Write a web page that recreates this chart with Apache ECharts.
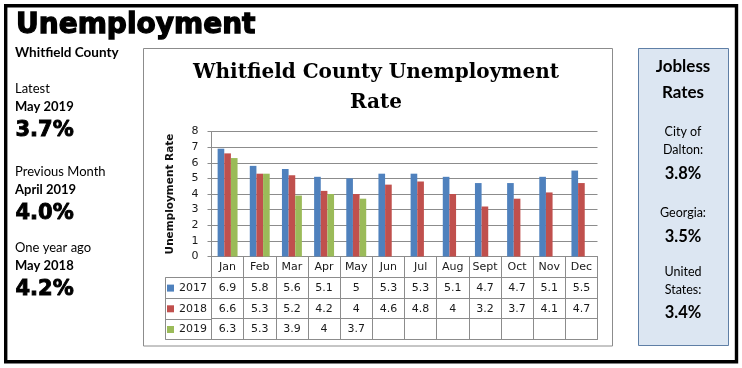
<!DOCTYPE html>
<html><head><meta charset="utf-8">
<script src="https://cdn.jsdelivr.net/npm/echarts/dist/echarts.min.js"></script>
<style>html,body{margin:0;padding:0;background:#fff}#c{width:742px;height:368px}</style>
</head><body><div id="c"></div>
<script>
// ---- data ----
const months = ['Jan','Feb','Mar','Apr','May','Jun','Jul','Aug','Sept','Oct','Nov','Dec'];
const years = ['2017','2018','2019'];
const rate2017 = [6.9,5.8,5.6,5.1,5,5.3,5.3,5.1,4.7,4.7,5.1,5.5];
const rate2018 = [6.6,5.3,5.2,4.2,4,4.6,4.8,4,3.2,3.7,4.1,4.7];
const rate2019 = [6.3,5.3,3.9,4,3.7,null,null,null,null,null,null,null];
const yMin = 0, yMax = 8, yInterval = 1;
const sideStats = [
  {label:'Latest', period:'May 2019', value:'3.7%'},
  {label:'Previous Month', period:'April 2019', value:'4.0%'},
  {label:'One year ago', period:'May 2018', value:'4.2%'}
];
const jobless = [
  {lines:['City of','Dalton:'], value:'3.8%'},
  {lines:['Georgia:'], value:'3.5%'},
  {lines:['United','States:'], value:'3.4%'}
];

// ---- styles ----
const colors = ['#4f81bd','#c0504d','#9bbb59'];
const lineColor = '#8c8c8c';
const tableFont = {fontFamily:'DejaVu Sans', fontSize:11, color:'#1a1a1a'};
const seriesData = [rate2017, rate2018, rate2019];
const fmt = v => (v == null ? '' : String(v));

function T(text, x, baseline, size, family, weight, align, heavy) {
  const k = family.indexOf('Lato') >= 0 ? 0.39 : 0.35;
  const style = {text:text, fontSize:size, fontFamily:family, fontWeight:weight||'normal',
      fill:'#000', align:align||'left', verticalAlign:'middle'};
  if (heavy) { style.stroke = '#000'; style.lineWidth = heavy; }
  return {type:'text', x:x, y:baseline - size*k, silent:true, style:style};
}

const graphics = [
  {type:'rect', silent:true, z:-10, shape:{x:5.7,y:5.7,width:730.8,height:356}, style:{fill:'#fff', stroke:'#000', lineWidth:3.4}},
  {type:'rect', silent:true, z:-9, shape:{x:143.5,y:48.5,width:469,height:297.5}, style:{fill:'#fff', stroke:lineColor, lineWidth:1}},
  {type:'rect', silent:true, z:-9, shape:{x:638.5,y:48.5,width:90,height:297}, style:{fill:'#dce6f2', stroke:'#5f7fa6', lineWidth:1}},
  T('Unemployment', 16, 36, 28, 'DejaVu Sans', 'bold', 'left', 1.3),
  T('Whitfield County', 15, 58, 13.5, 'Lato', 'bold'),
  T('Whitfield County Unemployment', 376, 79.3, 20, 'DejaVu Serif', 'bold', 'center'),
  T('Rate', 376, 110, 20, 'DejaVu Serif', 'bold', 'center')
];
const sideBase = [94.3, 177.3, 253];
sideStats.forEach((s, i) => {
  const b = sideBase[i];
  graphics.push(T(s.label, 15, b, 13, 'Lato', 'normal'));
  graphics.push(T(s.period, 15, b + 17.8, 13, 'Lato', 'bold'));
  graphics.push(T(s.value, 15.5, b + 43.5, 21, 'DejaVu Sans', 'bold', 'left', 0.9));
});
graphics.push(T('Jobless', 683, 73.3, 17, 'Lato', 'bold', 'center'));
graphics.push(T('Rates', 683, 99, 17, 'Lato', 'bold', 'center'));
const jb = [[136.7,155],[218.3],[277.3,295]];
const jv = [180, 243.3, 319];
jobless.forEach((j, i) => {
  j.lines.forEach((l, k) => graphics.push(T(l, 683, jb[i][k], 12.5, 'Lato', 'normal', 'center')));
  graphics.push(T(j.value, 683, jv[i], 16.5, 'Lato', 'bold', 'center'));
});

function rowAxis(values, offset, show) {
  return {type:'category', gridIndex:0, position:'bottom', offset:offset, data:months, silent:true,
    axisLine:{show:true, lineStyle:{color:lineColor}}, axisTick:{show:false}, splitLine:{show:false},
    axisLabel:Object.assign({show:show, interval:0, margin:5, formatter:(v, i) => values ? fmt(values[i]) : ''}, tableFont)};
}

const option = {
  animation:false,
  color:colors,
  graphic:graphics,
  legend:{orient:'vertical', left:162, top:277.6, padding:5, itemWidth:7, itemHeight:7, itemGap:9.7, icon:'rect',
    selectedMode:false, data:years, textStyle:Object.assign({lineHeight:11}, tableFont)},
  grid:[
    {left:211.5, right:144.5, top:131.5, bottom:111.5, containLabel:false, outerBoundsMode:'none'},
    {left:165.5, top:277.5, width:46, height:62, show:true, borderColor:lineColor, borderWidth:1, backgroundColor:'transparent', containLabel:false, outerBoundsMode:'none'}
  ],
  xAxis:[
    {type:'category', gridIndex:0, data:months, position:'bottom', silent:true,
      axisLine:{show:true, lineStyle:{color:lineColor}},
      axisTick:{show:true, interval:0, length:83, lineStyle:{color:lineColor}},
      axisLabel:Object.assign({interval:0, margin:5}, tableFont)},
    rowAxis(rate2017, 21, true),
    rowAxis(rate2018, 42, true),
    rowAxis(rate2019, 62, true),
    rowAxis(null, 83, false),
    {type:'value', gridIndex:1, show:false, min:0, max:1}
  ],
  yAxis:[
    {type:'value', gridIndex:0, min:yMin, max:yMax, interval:yInterval,
      name:'Unemployment Rate', nameLocation:'middle', nameRotate:90, nameGap:36,
      nameTextStyle:{fontFamily:'DejaVu Sans', fontWeight:'bold', fontSize:10.5, color:'#111'},
      axisLine:{show:true, lineStyle:{color:lineColor}},
      axisTick:{show:true, length:4, lineStyle:{color:lineColor}},
      splitLine:{show:true, lineStyle:{color:lineColor}},
      axisLabel:Object.assign({margin:13}, tableFont)},
    {type:'category', gridIndex:1, data:years, inverse:true,
      axisLine:{show:false}, axisTick:{show:false}, axisLabel:{show:false},
      splitLine:{show:true, interval:0, lineStyle:{color:lineColor}}}
  ],
  series: years.map((y, i) => ({name:y, type:'bar', xAxisIndex:0, yAxisIndex:0, data:seriesData[i],
    barGap:'0%', barCategoryGap:'38%', silent:true, itemStyle:{color:colors[i]}}))
};
const chart = echarts.init(document.getElementById('c'), null, {renderer:'canvas'});
chart.setOption(option);
</script>
</body></html>
